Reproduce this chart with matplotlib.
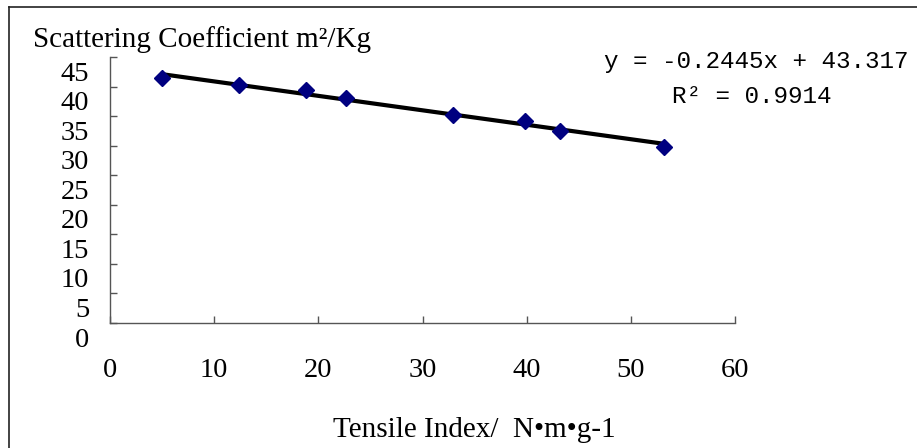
import numpy as np
import matplotlib
matplotlib.use("Agg")
import matplotlib.pyplot as plt
from matplotlib.lines import Line2D
from matplotlib.transforms import ScaledTranslation

# valeurs
tensile = [5.0, 12.4, 18.8, 22.7, 32.9, 39.8, 43.2, 53.2]
scatter = [41.4, 40.3, 39.4, 38.1, 35.2, 34.1, 32.5, 29.8]
slope, intercept = -0.2445, 43.317
r2 = 0.9914

x_ticks = [0, 10, 20, 30, 40, 50, 60]
y_ticks = [0, 5, 10, 15, 20, 25, 30, 35, 40, 45]

serif = ["Liberation Serif", "DejaVu Serif"]
mono = ["Liberation Mono", "DejaVu Sans Mono"]

fig = plt.figure(figsize=(9.17, 4.48), dpi=100)
W, H = 917, 448
ax = fig.add_axes([110 / W, 1 - 323 / H, (735 - 110) / W, (323 - 57) / H])

# courbe de tendance
xl = np.array([min(tensile), max(tensile)])
ax.plot(xl, slope * xl + intercept, color="black", lw=3, zorder=2)
ax.plot(tensile, scatter, "D", color="#000080", ms=8, mec="#000080", zorder=3)

ax.set_xlim(0, 60)
ax.set_ylim(0, 45)
ax.set_xticks(x_ticks)
ax.set_yticks(y_ticks)
ax.set_xticklabels([str(v) for v in x_ticks], fontfamily=serif, fontsize=20.5)
ax.set_yticklabels([str(v) for v in y_ticks], fontfamily=serif, fontsize=20.5)

for s in ["top", "right"]:
    ax.spines[s].set_visible(False)
for s in ["left", "bottom"]:
    ax.spines[s].set_color("#555555")
    ax.spines[s].set_linewidth(1.0)

ax.tick_params(axis="x", direction="in", length=5, width=1, color="#555555", pad=25)
ax.tick_params(axis="y", direction="in", length=5, width=1, color="#555555", pad=15)

# étiquettes Y décalées vers le bas comme dans Excel
off = ScaledTranslation(0, -14 / 100, fig.dpi_scale_trans)
for lab in ax.get_yticklabels():
    lab.set_transform(lab.get_transform() + off)

fig.text(33 / W, 1 - 47 / H, "Scattering Coefficient m²/Kg", fontfamily=serif,
         fontsize=21, va="baseline", ha="left")
fig.text(474 / W, 1 - 437 / H, "Tensile Index/  N•m•g-1", fontfamily=serif,
         fontsize=21, va="baseline", ha="center")

fig.text(756 / W, 1 - 68 / H, f"y = {slope}x + {intercept}", fontfamily=mono,
         fontsize=17.5, va="baseline", ha="center")
fig.text(752 / W, 1 - 103 / H, f"R² = {r2}", fontfamily=mono,
         fontsize=17.5, va="baseline", ha="center")

# cadre (haut et gauche seulement)
fig.add_artist(Line2D([9 / W, 1], [1 - 7 / H, 1 - 7 / H], color="#222222", lw=1.2))
fig.add_artist(Line2D([9 / W, 9 / W], [0, 1 - 7 / H], color="#222222", lw=1.2))

fig.savefig("out.png", dpi=100)
